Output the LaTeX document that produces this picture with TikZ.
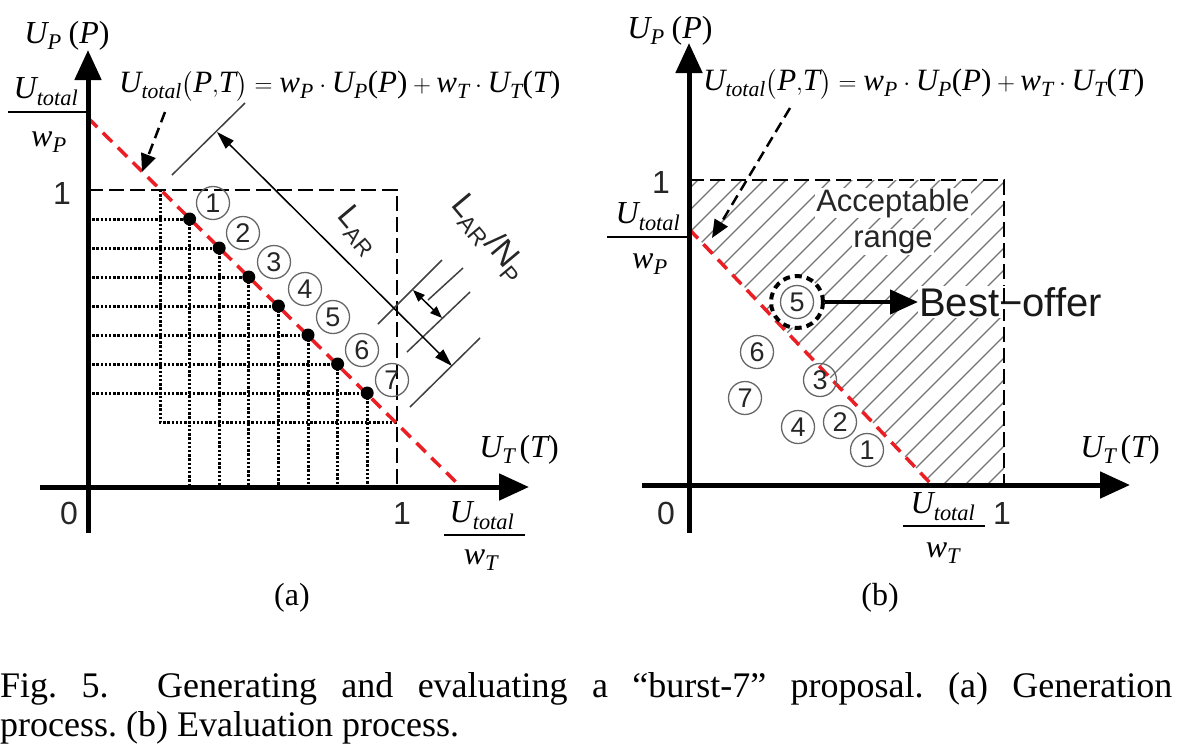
\documentclass[tikz,border=0pt]{standalone}
\usepackage{amsmath}
\usepackage{fontspec}
\setmainfont{Liberation Serif}
\setsansfont{Liberation Sans}
\usetikzlibrary{arrows.meta}
\newcommand\vi[1]{\textit{#1}}
\newcommand\fs[1]{\fontsize{#1}{#1}\selectfont}
\newcommand\formula{$\vi{U}_{\vi{total}}\bigl(\vi{P}{,}\vi{T}\bigr)=\vi{w}_{\vi{P}}\cdot\vi{U}_{\vi{P}}\textup{(}\vi{P}\textup{)}+\vi{w}_{\vi{T}}\cdot\vi{U}_{\vi{T}}\textup{(}\vi{T}\textup{)}$}
\tikzset{
  axisline/.style={line width=5pt,-{Triangle[length=30pt,width=26pt]}},
  reddash/.style={draw={rgb,255:red,235;green,30;blue,35},line width=3.5pt,dash pattern=on 13pt off 8pt},
  boxdash/.style={line width=2.2pt,dash pattern=on 15pt off 6pt},
  griddot/.style={line width=3pt,dash pattern=on 2.4pt off 1.8pt},
  griddotnode/.style={circle,fill=black,inner sep=0pt,minimum size=13pt},
  circnum/.style={circle,draw=black!60,line width=1.3pt,minimum size=33pt,inner sep=0pt,font=\sffamily\fs{27},text=black!85},
  mlab/.style={inner sep=0pt,font=\fs{32}},
  fraclab/.style={inner sep=0pt,font=\fs{32}},
  numlab/.style={inner sep=0pt,font=\sffamily\fs{32},text=black!85},
  fracline/.style={line width=2.2pt},
  tickline/.style={line width=1.5pt,draw=black!75},
  dimarrow/.style={line width=1.5pt,{Triangle[length=18pt,width=11pt]}-{Triangle[length=18pt,width=11pt]}},
  smallarrow/.style={line width=1.5pt,{Triangle[length=12pt,width=9pt]}-{Triangle[length=12pt,width=9pt]}},
  dasharrow/.style={line width=2.5pt,dash pattern=on 11pt off 6pt,-{Triangle[length=18pt,width=15pt]}},
  hatchline/.style={line width=1.3pt,draw=black!55},
  sanslab/.style={inner sep=1pt,font=\sffamily\fs{31},text=black!85,fill=white},
}
\begin{document}
\begin{tikzpicture}[x=1pt,y=-1pt]
\useasboundingbox (0,0) rectangle (1185,748);
% ================= LEFT PANEL =================
\foreach \k in {1,...,7} {
  \pgfmathsetmacro\gx{160+29.6*\k}
  \pgfmathsetmacro\gy{190+29*\k}
  \draw[griddot] (88,\gy) -- (\gx,\gy);
  \draw[griddot] (\gx,\gy) -- (\gx,487);
}
\draw[griddot] (160,190) -- (160,422) -- (396.8,422);
\draw[boxdash] (88,190) -- (396.8,190) -- (396.8,487);
\coordinate (lrA) at (88,118);
\coordinate (lrB) at (461,487);
\draw[reddash] (lrA) -- (lrB);
\foreach \k in {1,...,7} {
  \pgfmathsetmacro\gx{160+29.6*\k}
  \pgfmathsetmacro\gy{190+29*\k}
  \node[griddotnode] (ld\k) at (\gx,\gy) {};
}
% circled numbers
\node[circnum] (lc1) at (213,203) {1};
\node[circnum] (lc2) at (243,233) {2};
\node[circnum] (lc3) at (274,262) {3};
\node[circnum] (lc4) at (305,289) {4};
\node[circnum] (lc5) at (333,317) {5};
\node[circnum] (lc6) at (362,350) {6};
\node[circnum] (lc7) at (392,380) {7};
% axes
\coordinate (lyS) at (88,533); \coordinate (lyE) at (88,50);
\coordinate (lxS) at (40,487); \coordinate (lxE) at (529,487);
\draw[axisline] (lyS) -- (lyE);
\draw[axisline] (lxS) -- (lxE);
% labels
\node[mlab] (lyl) at (67,36) {$\vi{U}_{\vi{P}}\;\textup{(}\vi{P}\textup{)}$};
\node[mlab,font=\fs{31},anchor=west] (lform) at (119,86) {\formula};
\node[fraclab] (lnum) at (46,92) {$\vi{U}_{\vi{total}}$};
\coordinate (lfa) at (8,112); \coordinate (lfb) at (86,112);
\draw[fracline] (lfa) -- (lfb);
\node[fraclab] (lden) at (49,142) {$\vi{w}_{\vi{P}}$};
\node[numlab] (ly1) at (62,193) {1};
\node[numlab] (l0) at (69,513) {0};
\node[numlab] (lx1) at (402,513) {1};
\node[mlab] (lxl) at (519,450) {$\vi{U}_{\vi{T}}\,\textup{(}\vi{T}\textup{)}$};
\node[fraclab] (lnum2) at (482,516) {$\vi{U}_{\vi{total}}$};
\coordinate (lga) at (444,535); \coordinate (lgb) at (525,535);
\draw[fracline] (lga) -- (lgb);
\node[fraclab] (lden2) at (481,560) {$\vi{w}_{\vi{T}}$};
\node[mlab,font=\fs{32}] (la) at (292,598) {(a)};
% dashed pointer
\coordinate (lpS) at (165,112); \coordinate (lpE) at (142,172);
\draw[dasharrow] (lpS) -- (lpE);
% L_AR dimension
\coordinate (lt1a) at (172,175); \coordinate (lt1b) at (245,103);
\draw[tickline] (lt1a) -- (lt1b);
\coordinate (ltaA) at (378,324); \coordinate (ltaB) at (442,260);
\coordinate (ltbA) at (428,300); \coordinate (ltbB) at (463,268);
\coordinate (ltcA) at (407,352); \coordinate (ltcB) at (470,292);
\coordinate (ltdA) at (410,407); \coordinate (ltdB) at (480,338);
\draw[tickline] (ltaA) -- (ltaB);
\draw[tickline] (ltbA) -- (ltbB);
\draw[tickline] (ltcA) -- (ltcB);
\draw[tickline] (ltdA) -- (ltdB);
\coordinate (lLa) at (217,132); \coordinate (lLb) at (452,366);
\draw[dimarrow] (lLa) -- (lLb);
\coordinate (lsa) at (413,290); \coordinate (lsb) at (442,318);
\draw[smallarrow] (lsa) -- (lsb);
\node[inner sep=0pt,rotate=-50,font=\sffamily\fs{32},text=black!85] (lLAR) at (358,231) {L$_{\text{AR}}$};
\node[inner sep=0pt,rotate=-50,font=\sffamily\fs{33},text=black!85] (lLARN) at (489,238) {L$_{\text{AR}}$/N$_{\text{P}}$};
% ================= RIGHT PANEL =================
\begin{scope}
  \clip (689,229) -- (689,180) -- (1004,180) -- (1004,485) -- (932,485) -- cycle;
  \foreach \c in {878,900,...,1500} \draw[hatchline] (\c-160,160) -- (\c-500,500);
\end{scope}
\node[sanslab] (racc) at (893,203) {Acceptable};
\node[sanslab] (rrng) at (893,242) {range};
\draw[boxdash] (689,180) -- (1004,180) -- (1004,485);
\coordinate (rrA) at (689,229);
\coordinate (rrB) at (932,485);
\draw[reddash] (rrA) -- (rrB);
% best offer
\node[circle,draw=black,fill=white,line width=4pt,dash pattern=on 7pt off 5pt,minimum size=52pt,inner sep=0pt] (rring) at (797,302) {};
\node[circnum,fill=white] (rc5) at (797,302) {5};
\node[inner sep=1pt,anchor=west,font=\sffamily\fs{40},text=black!90,fill=white] (rbest) at (918,302) {Best−offer};
\draw[line width=4.5pt,-{Triangle[length=28pt,width=24pt]}] (rring.east) -- (rbest.west);
\draw[boxdash] (1004,288) -- (1004,318);
\node[circnum] (rc6) at (757,352) {6};
\node[circnum] (rc3) at (820,380) {3};
\node[circnum] (rc7) at (745,398) {7};
\node[circnum] (rc4) at (798,427) {4};
\node[circnum] (rc2) at (840,422) {2};
\node[circnum] (rc1) at (867,450) {1};
% axes
\coordinate (ryS) at (689,533); \coordinate (ryE) at (689,43);
\coordinate (rxS) at (642,485); \coordinate (rxE) at (1130,485);
\draw[axisline] (ryS) -- (ryE);
\draw[axisline] (rxS) -- (rxE);
% labels
\node[mlab] (ryl) at (670,31) {$\vi{U}_{\vi{P}}\;\textup{(}\vi{P}\textup{)}$};
\node[mlab,font=\fs{31},anchor=west] (rform) at (703,84) {\formula};
\node[fraclab] (rnum) at (648,217) {$\vi{U}_{\vi{total}}$};
\coordinate (rfa) at (607,237); \coordinate (rfb) at (689,237);
\draw[fracline] (rfa) -- (rfb);
\node[fraclab] (rden) at (650,264) {$\vi{w}_{\vi{P}}$};
\node[numlab] (ry1) at (661,182) {1};
\node[numlab] (r0) at (666,513) {0};
\node[numlab] (rx1) at (1002,513) {1};
\node[fraclab] (rnum2) at (943,507) {$\vi{U}_{\vi{total}}$};
\coordinate (rga) at (903,526); \coordinate (rgb) at (985,526);
\draw[fracline] (rga) -- (rgb);
\node[fraclab] (rden2) at (943,553) {$\vi{w}_{\vi{T}}$};
\node[mlab] (rxl) at (1120,450) {$\vi{U}_{\vi{T}}\,\textup{(}\vi{T}\textup{)}$};
\node[mlab,font=\fs{32}] (rb) at (880,598) {(b)};
\coordinate (rpS) at (790,108); \coordinate (rpE) at (712,238);
\draw[dasharrow] (rpS) -- (rpE);
% ================= CAPTION =================
\node[inner sep=0pt,anchor=base west,font=\fs{36}] (cap1) at (0,697) {\frenchspacing\makebox[1172pt][s]{Fig.~5.\ \ Generating and evaluating a “burst-7” proposal. (a) Generation}};
\node[inner sep=0pt,anchor=base west,font=\fs{36}] (cap2) at (0,736) {\frenchspacing process. (b) Evaluation process.};
\end{tikzpicture}
\end{document}
